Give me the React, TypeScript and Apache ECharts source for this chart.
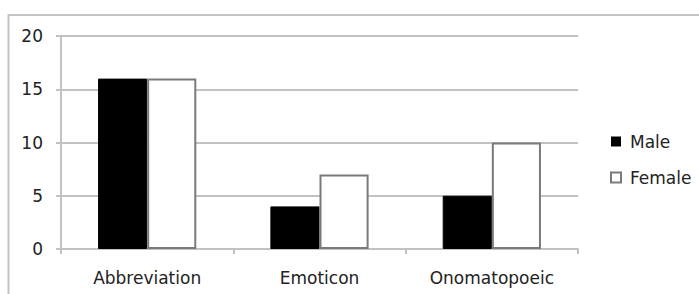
import React, { useEffect, useRef } from "react";
import * as echarts from "echarts";

const categories = ["Abbreviation", "Emoticon", "Onomatopoeic"];
const maleValues = [16, 4, 5];
const femaleValues = [16, 7, 10];
const yTicks = { min: 0, max: 20, interval: 5 };

const FONT = "DejaVu Sans";
const TEXT = "#222222";
const GRID = "#c2c2c2";

export default function App() {
  const ref = useRef<HTMLDivElement>(null);
  useEffect(() => {
    if (!ref.current) return;
    const chart = echarts.init(ref.current, undefined, { renderer: "svg" });
    chart.setOption({
      animation: false,
      backgroundColor: "#ffffff",
      textStyle: { fontFamily: FONT },
      graphic: [
        {
          type: "rect",
          shape: { x: 8.5, y: 15, width: 700, height: 300 },
          style: { fill: "none", stroke: "#c4c4c4", lineWidth: 2 },
          silent: true,
          z: -1,
        },
      ],
      grid: { left: 61, right: 121, top: 36, bottom: 45 },
      legend: {
        orient: "vertical",
        left: 610,
        top: 133,
        padding: 0,
        itemWidth: 10,
        itemHeight: 10,
        itemGap: 19,
        textStyle: { fontFamily: FONT, fontSize: 17, color: TEXT, padding: [0, 0, 0, 4] },
        data: [
          { name: "Male", icon: "rect", itemStyle: { color: "#000000", borderColor: "#000000", borderWidth: 0 } },
          { name: "Female", icon: "rect", itemStyle: { color: "#ffffff", borderColor: "#7a7a7a", borderWidth: 2 } },
        ],
      },
      xAxis: {
        type: "category",
        data: categories,
        axisLine: { lineStyle: { color: GRID, width: 2 } },
        axisTick: { show: true, length: 5, lineStyle: { color: GRID, width: 2 } },
        axisLabel: { fontFamily: FONT, fontSize: 17, color: TEXT, margin: 20 },
      },
      yAxis: {
        type: "value",
        min: yTicks.min,
        max: yTicks.max,
        interval: yTicks.interval,
        axisLine: { show: true, lineStyle: { color: GRID, width: 2 } },
        axisTick: { show: true, length: 5, lineStyle: { color: GRID, width: 2 } },
        splitLine: { show: true, lineStyle: { color: GRID, width: 2 } },
        axisLabel: { fontFamily: FONT, fontSize: 17, color: TEXT, margin: 18 },
      },
      series: [
        {
          name: "Male",
          type: "bar",
          data: maleValues,
          barGap: "0%",
          barCategoryGap: "43%",
          itemStyle: { color: "#000000", borderColor: "#000000", borderWidth: 1 },
        },
        {
          name: "Female",
          type: "bar",
          data: femaleValues,
          barGap: "0%",
          barCategoryGap: "43%",
          itemStyle: { color: "#ffffff", borderColor: "#7a7a7a", borderWidth: 2 },
        },
      ],
    });
    return () => chart.dispose();
  }, []);
  return (
    <div
      ref={ref}
      style={{ position: "fixed", left: 0, top: 0, width: 699, height: 294 }}
    />
  );
}
